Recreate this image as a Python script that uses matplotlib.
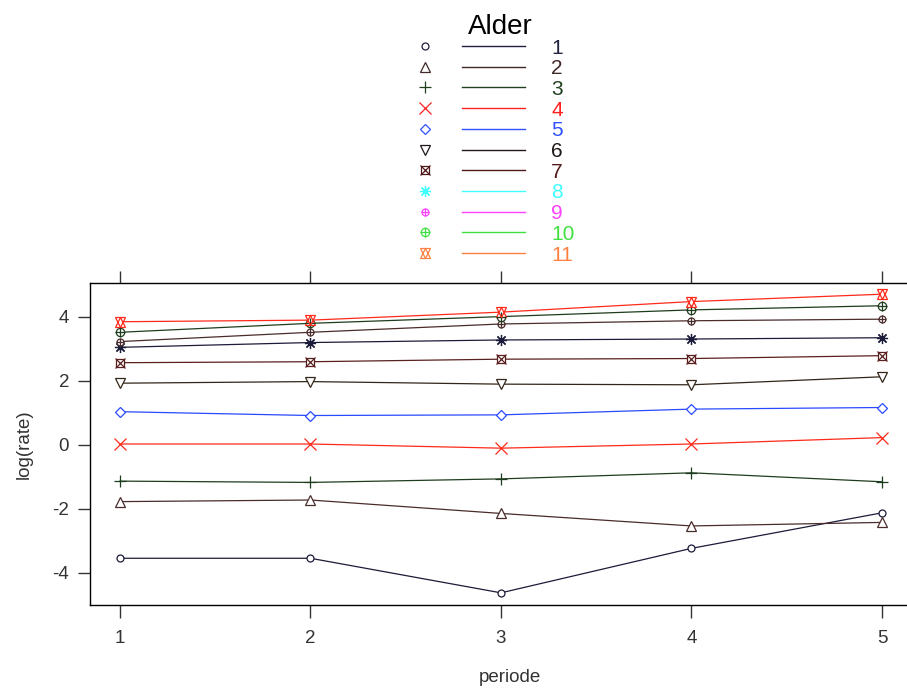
import matplotlib
matplotlib.use('Agg')
import matplotlib.pyplot as plt
from matplotlib.lines import Line2D

plt.rcParams['font.family'] = ['Liberation Sans', 'DejaVu Sans']
plt.rcParams['axes.unicode_minus'] = False

periode = [1, 2, 3, 4, 5]
alder = ['1', '2', '3', '4', '5', '6', '7', '8', '9', '10', '11']

# log(rate) per alder group
lograte = [
    [-3.54, -3.54, -4.62, -3.23, -2.12],
    [-1.77, -1.72, -2.14, -2.53, -2.42],
    [-1.13, -1.17, -1.06, -0.87, -1.15],
    [0.03, 0.03, -0.10, 0.03, 0.23],
    [1.04, 0.92, 0.94, 1.12, 1.17],
    [1.93, 1.98, 1.90, 1.88, 2.13],
    [2.57, 2.60, 2.68, 2.70, 2.79],
    [3.05, 3.20, 3.28, 3.31, 3.35],
    [3.23, 3.52, 3.78, 3.88, 3.93],
    [3.52, 3.80, 4.01, 4.22, 4.35],
    [3.85, 3.90, 4.15, 4.48, 4.71],
]

# the plot cycles through 7 colours, the key uses 11
plot_cols = ['#1b1b3a', '#4a2c2c', '#1e3d1e', '#ff2a1a', '#2a4aff', '#33261a', '#5a1f1f']
key_cols = ['#202040', '#402828', '#204020', '#ff2020', '#3050ff', '#201818',
            '#501818', '#40ffff', '#ff40ff', '#40e040', '#ff8040']
mk1 = ['o', '^', '+', 'x', 'D', 'v', 's', (8, 2, 0), 'o', 'o', '^']
mk2 = [None, None, None, None, None, None, 'x', None, '+', '+', 'v']
ms1 = [5, 6.5, 8, 8, 5, 6.5, 6, 8, 5, 6, 6.5]

fig = plt.figure(figsize=(9.07, 6.97), dpi=100)
ax = fig.add_axes([90 / 907, 1 - 605 / 697, 840 / 907, 322 / 697])

for i, y in enumerate(lograte):
    c = plot_cols[i % 7]
    ax.plot(periode, y, color=c, lw=0.9, zorder=2)
    ax.plot(periode, y, ls='none', marker=mk1[i], ms=ms1[i], mfc='white',
            mec=c, mew=0.9, zorder=3)
    if mk2[i] is not None:
        ax.plot(periode, y, ls='none', marker=mk2[i], ms=ms1[i] + 1, mfc='none',
                mec=c, mew=0.9, zorder=4)

ax.set_xlim(1 + (90 - 120) / 190.5, 1 + (930 - 120) / 190.5)
ax.set_ylim(-5.0, 5.06)
ax.set_xticks(periode)
ax.set_yticks([-4, -2, 0, 2, 4])
ax.spines['right'].set_visible(False)
for s in ax.spines.values():
    s.set_linewidth(1.0)
ax.tick_params(axis='x', top=True, direction='out', length=9, width=1,
               labelsize=13.5, pad=9, colors='#333333')
ax.tick_params(axis='y', direction='out', length=9, width=1,
               labelsize=13.5, pad=6, colors='#333333')
ax.set_xlabel('periode', fontsize=13.5, color='#333333', labelpad=16)
ax.set_ylabel('log(rate)', fontsize=13.5, color='#333333', labelpad=14)

# key above the panel
fig.text(500 / 907, 1 - 27 / 697, 'Alder', ha='center', va='center', fontsize=20)
for i, lab in enumerate(alder):
    yy = 1 - (46 + i * 20.7) / 697
    c = key_cols[i]
    fig.add_artist(Line2D([425 / 907], [yy], ls='none', marker=mk1[i], ms=ms1[i],
                          mfc='white', mec=c, mew=0.9, transform=fig.transFigure))
    if mk2[i] is not None:
        fig.add_artist(Line2D([425 / 907], [yy], ls='none', marker=mk2[i],
                              ms=ms1[i] + 1, mfc='none', mec=c, mew=0.9,
                              transform=fig.transFigure))
    fig.add_artist(Line2D([462 / 907, 525 / 907], [yy, yy], color=c, lw=1.0,
                          transform=fig.transFigure))
    fig.text(551 / 907, yy - 2 / 697, lab, ha='left', va='center', fontsize=15, color=c)

fig.savefig('out.png', dpi=100)
